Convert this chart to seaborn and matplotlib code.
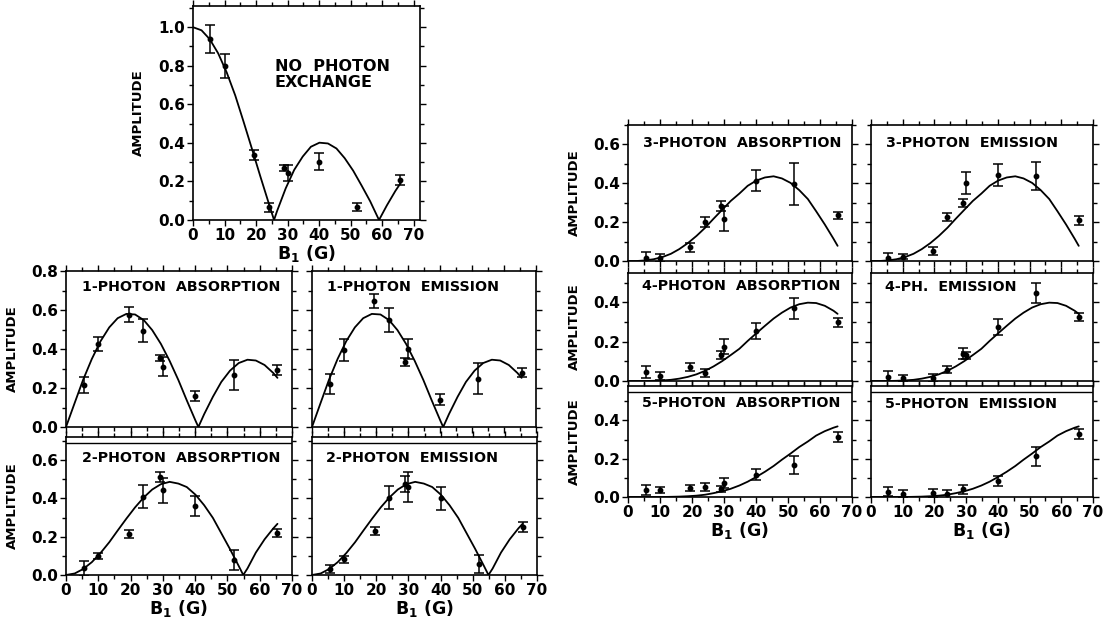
import matplotlib
matplotlib.use("Agg")
import matplotlib.pyplot as plt
import seaborn as sns
from matplotlib.ticker import MultipleLocator, FormatStrFormatter

# ---- theory curves (amplitude vs B1) ----
b_curve_0   = [0, 2.7, 5.3, 8.0, 10.7, 13.4, 16.0, 18.7, 21.4, 24.1, 25.7, 26.7, 29.4, 32.1, 34.8, 37.4,
               40.1, 42.8, 45.5, 48.1, 50.8, 53.5, 56.2, 59.0, 61.5, 64.2, 66.0]
amp_curve_0 = [1.0, 0.984, 0.938, 0.864, 0.765, 0.646, 0.512, 0.369, 0.224, 0.083, 0.0, 0.048, 0.164, 0.260,
               0.329, 0.380, 0.401, 0.397, 0.371, 0.321, 0.256, 0.178, 0.097, 0.0, 0.076, 0.151, 0.195]

b_curve_1   = [0, 2.7, 5.3, 8.0, 10.7, 13.4, 16.0, 18.7, 21.4, 24.1, 26.7, 29.4, 32.1, 34.8, 37.4, 40.1,
               41.0, 42.8, 45.5, 48.1, 50.8, 53.5, 56.2, 58.8, 61.5, 64.2, 65.5]
amp_curve_1 = [0, 0.124, 0.242, 0.349, 0.440, 0.511, 0.558, 0.580, 0.577, 0.548, 0.497, 0.426, 0.339, 0.241,
               0.137, 0.033, 0.0, 0.066, 0.155, 0.231, 0.289, 0.328, 0.345, 0.341, 0.318, 0.277, 0.252]

b_curve_2   = [0, 2.7, 5.3, 8.0, 10.7, 13.4, 16.0, 18.7, 21.4, 24.1, 26.7, 29.4, 32.1, 34.8, 37.4, 40.1,
               42.8, 45.5, 48.1, 50.8, 53.5, 54.9, 56.2, 58.8, 61.5, 64.2, 65.5]
amp_curve_2 = [0, 0.008, 0.031, 0.067, 0.115, 0.171, 0.232, 0.294, 0.353, 0.405, 0.446, 0.474, 0.486, 0.477,
               0.459, 0.419, 0.364, 0.298, 0.218, 0.135, 0.047, 0.0, 0.034, 0.117, 0.186, 0.243, 0.267]

b_curve_hi  = [0, 2.7, 5.3, 8.0, 10.7, 13.4, 16.0, 18.7, 21.4, 24.1, 26.7, 29.4, 32.1, 34.8, 37.4, 40.1,
               42.8, 45.5, 48.1, 50.8, 53.5, 56.2, 58.8, 61.5, 64.2, 65.5]
amp_curve_3 = [0, 0.0, 0.003, 0.009, 0.020, 0.037, 0.061, 0.092, 0.129, 0.171, 0.217, 0.263, 0.309, 0.347,
               0.387, 0.414, 0.430, 0.436, 0.425, 0.402, 0.365, 0.319, 0.256, 0.188, 0.115, 0.078]
amp_curve_4 = [0, 0.0, 0.0, 0.001, 0.003, 0.006, 0.012, 0.021, 0.034, 0.052, 0.074, 0.101, 0.132, 0.164,
               0.204, 0.243, 0.281, 0.318, 0.348, 0.374, 0.391, 0.399, 0.397, 0.383, 0.358, 0.342]
amp_curve_5 = [0, 0, 0, 0, 0.0, 0.001, 0.002, 0.004, 0.007, 0.012, 0.020, 0.030, 0.043, 0.060, 0.080,
               0.105, 0.132, 0.162, 0.195, 0.227, 0.261, 0.290, 0.321, 0.344, 0.362, 0.369]

# ---- measured points ----
b_pts  = [5.5, 10, 19.5, 24, 29, 30, 40, 52, 65.5]
b_pts8 = [5.5, 10, 19.5, 24, 29, 40, 52, 65.5]

amp_none = [0.94, 0.80, 0.338, 0.066, 0.269, 0.243, 0.303, 0.066, 0.208]
err_none = [0.074, 0.063, 0.026, 0.022, 0.017, 0.043, 0.043, 0.02, 0.026]
amp_abs1 = [0.215, 0.425, 0.576, 0.494, 0.353, 0.31, 0.158, 0.267, 0.292]
err_abs1 = [0.043, 0.036, 0.037, 0.058, 0.017, 0.05, 0.026, 0.079, 0.026]
amp_em1  = [0.222, 0.395, 0.645, 0.548, 0.334, 0.40, 0.141, 0.248, 0.278]
err_em1  = [0.052, 0.058, 0.037, 0.06, 0.022, 0.05, 0.028, 0.08, 0.023]
amp_abs2 = [0.035, 0.10, 0.214, 0.409, 0.51, 0.443, 0.36, 0.078, 0.217]
err_abs2 = [0.04, 0.015, 0.023, 0.058, 0.027, 0.065, 0.054, 0.05, 0.021]
amp_em2  = [0.032, 0.081, 0.23, 0.404, 0.475, 0.46, 0.40, 0.058, 0.25]
err_em2  = [0.02, 0.02, 0.02, 0.06, 0.04, 0.08, 0.06, 0.045, 0.025]
amp_abs3 = [0.017, 0.017, 0.07, 0.20, 0.283, 0.217, 0.414, 0.397, 0.235]
err_abs3 = [0.027, 0.02, 0.023, 0.025, 0.025, 0.065, 0.052, 0.107, 0.018]
amp_em3  = [0.017, 0.023, 0.052, 0.226, 0.30, 0.40, 0.443, 0.435, 0.209]
err_em3  = [0.025, 0.015, 0.022, 0.02, 0.02, 0.057, 0.055, 0.072, 0.023]
amp_abs4 = [0.047, 0.025, 0.07, 0.039, 0.132, 0.175, 0.254, 0.37, 0.30]
err_abs4 = [0.03, 0.02, 0.02, 0.02, 0.02, 0.04, 0.042, 0.055, 0.023]
amp_em4  = [0.022, 0.014, 0.017, 0.057, 0.14, 0.13, 0.276, 0.448, 0.328]
err_em4  = [0.03, 0.018, 0.02, 0.018, 0.03, 0.02, 0.042, 0.052, 0.02]
amp_abs5 = [0.035, 0.038, 0.049, 0.052, 0.043, 0.073, 0.117, 0.169, 0.313]
err_abs5 = [0.026, 0.015, 0.016, 0.019, 0.017, 0.026, 0.028, 0.047, 0.026]
amp_em5  = [0.028, 0.014, 0.019, 0.014, 0.04, 0.084, 0.212, 0.33]
err_em5  = [0.025, 0.02, 0.022, 0.022, 0.022, 0.028, 0.05, 0.025]

sns.set_style("ticks")
plt.rcParams["font.family"] = ["DejaVu Sans"]
plt.rcParams["font.weight"] = "bold"
plt.rcParams["axes.linewidth"] = 1.2
for key in ["text.color", "axes.edgecolor", "axes.labelcolor", "xtick.color", "ytick.color"]:
    plt.rcParams[key] = "black"

W, H = 1105, 624
fig = plt.figure(figsize=(W / 100, H / 100), dpi=100)


def px_rect(l, t, r, b):
    return [l / W, 1 - b / H, (r - l) / W, (b - t) / H]


def panel(rect, title, bc, ac, bp, ap, ep, ymax, xmax=70, ylab=False, xlab=False,
          title_pos=(0.07, 0.88), double_top=None):
    ax = fig.add_axes(px_rect(*rect))
    sns.lineplot(x=bc, y=ac, ax=ax, color="black", lw=1.3, sort=False, estimator=None)
    ax.errorbar(bp, ap, yerr=ep, fmt="o", ms=3.2, color="black", ecolor="black",
                elinewidth=1.1, capsize=3.3, capthick=1.1)
    ax.set_xlim(0, xmax)
    ax.set_ylim(0, ymax)
    ax.xaxis.set_major_locator(MultipleLocator(10))
    ax.xaxis.set_minor_locator(MultipleLocator(5))
    ax.yaxis.set_major_locator(MultipleLocator(0.2))
    ax.yaxis.set_minor_locator(MultipleLocator(0.1))
    ax.yaxis.set_major_formatter(FormatStrFormatter("%.1f"))
    ax.tick_params(which="both", direction="out", top=True, right=True, width=1.0,
                   labelsize=11, pad=1.5, labelleft=ylab, labelbottom=xlab)
    ax.tick_params(which="major", length=4)
    ax.tick_params(which="minor", length=3)
    for lab in ax.get_xticklabels() + ax.get_yticklabels():
        lab.set_fontweight("bold")
    ax.set_xlabel("")
    ax.set_ylabel("")
    if ylab:
        ax.set_ylabel("AMPLITUDE", fontsize=9.5, fontweight="bold")
        ax.yaxis.set_label_coords(-0.21, 0.5)
    if xlab:
        ax.set_xlabel(r"$\mathbf{B_1}$ (G)", fontsize=12.5, fontweight="bold", labelpad=0)
    if title:
        ax.text(title_pos[0], title_pos[1], title, transform=ax.transAxes, fontsize=10.3,
                fontweight="bold", ha="left", va="center")
    if double_top is not None:
        ax.plot([0, 1], [double_top, double_top], transform=ax.transAxes, color="black", lw=1.0)
    return ax


# top: no photon exchange
ax0 = panel((193, 6, 420, 220), None, b_curve_0, amp_curve_0, b_pts, amp_none, err_none,
            1.11, xmax=72, ylab=True, xlab=True)
ax0.text(0.36, 0.68, "NO  PHOTON\nEXCHANGE", transform=ax0.transAxes, fontsize=11.5,
         fontweight="bold", ha="left", va="center", linespacing=1.15)

# left block
panel((66, 271, 292, 427), "1-PHOTON  ABSORPTION", b_curve_1, amp_curve_1, b_pts, amp_abs1, err_abs1,
      0.8, ylab=True, title_pos=(0.07, 0.9))
panel((312, 271, 536, 427), "1-PHOTON  EMISSION", b_curve_1, amp_curve_1, b_pts, amp_em1, err_em1,
      0.8, title_pos=(0.067, 0.9))
panel((66, 437, 292, 575), "2-PHOTON  ABSORPTION", b_curve_2, amp_curve_2, b_pts, amp_abs2, err_abs2,
      0.72, ylab=True, xlab=True, title_pos=(0.07, 0.85), double_top=0.957)
panel((312, 437, 537, 575), "2-PHOTON  EMISSION", b_curve_2, amp_curve_2, b_pts, amp_em2, err_em2,
      0.72, xlab=True, title_pos=(0.062, 0.85), double_top=0.957)

# right block
panel((628, 125, 852, 261), "3-PHOTON  ABSORPTION", b_curve_hi, amp_curve_3, b_pts, amp_abs3, err_abs3,
      0.7, ylab=True, title_pos=(0.067, 0.867))
panel((871, 125, 1093, 261), "3-PHOTON  EMISSION", b_curve_hi, amp_curve_3, b_pts, amp_em3, err_em3,
      0.7, title_pos=(0.067, 0.867))
panel((628, 273, 852, 381), "4-PHOTON  ABSORPTION", b_curve_hi, amp_curve_4, b_pts, amp_abs4, err_abs4,
      0.55, ylab=True, title_pos=(0.062, 0.88))
panel((871, 273, 1093, 381), "4-PH.  EMISSION", b_curve_hi, amp_curve_4, b_pts, amp_em4, err_em4,
      0.55, title_pos=(0.062, 0.87))
panel((628, 386, 852, 497), "5-PHOTON  ABSORPTION", b_curve_hi, amp_curve_5, b_pts, amp_abs5, err_abs5,
      0.58, ylab=True, xlab=True, title_pos=(0.062, 0.85), double_top=0.946)
panel((871, 386, 1093, 497), "5-PHOTON  EMISSION", b_curve_hi, amp_curve_5, b_pts8, amp_em5, err_em5,
      0.58, xlab=True, title_pos=(0.062, 0.84), double_top=0.946)

fig.savefig("out.png", dpi=100, facecolor="white")
